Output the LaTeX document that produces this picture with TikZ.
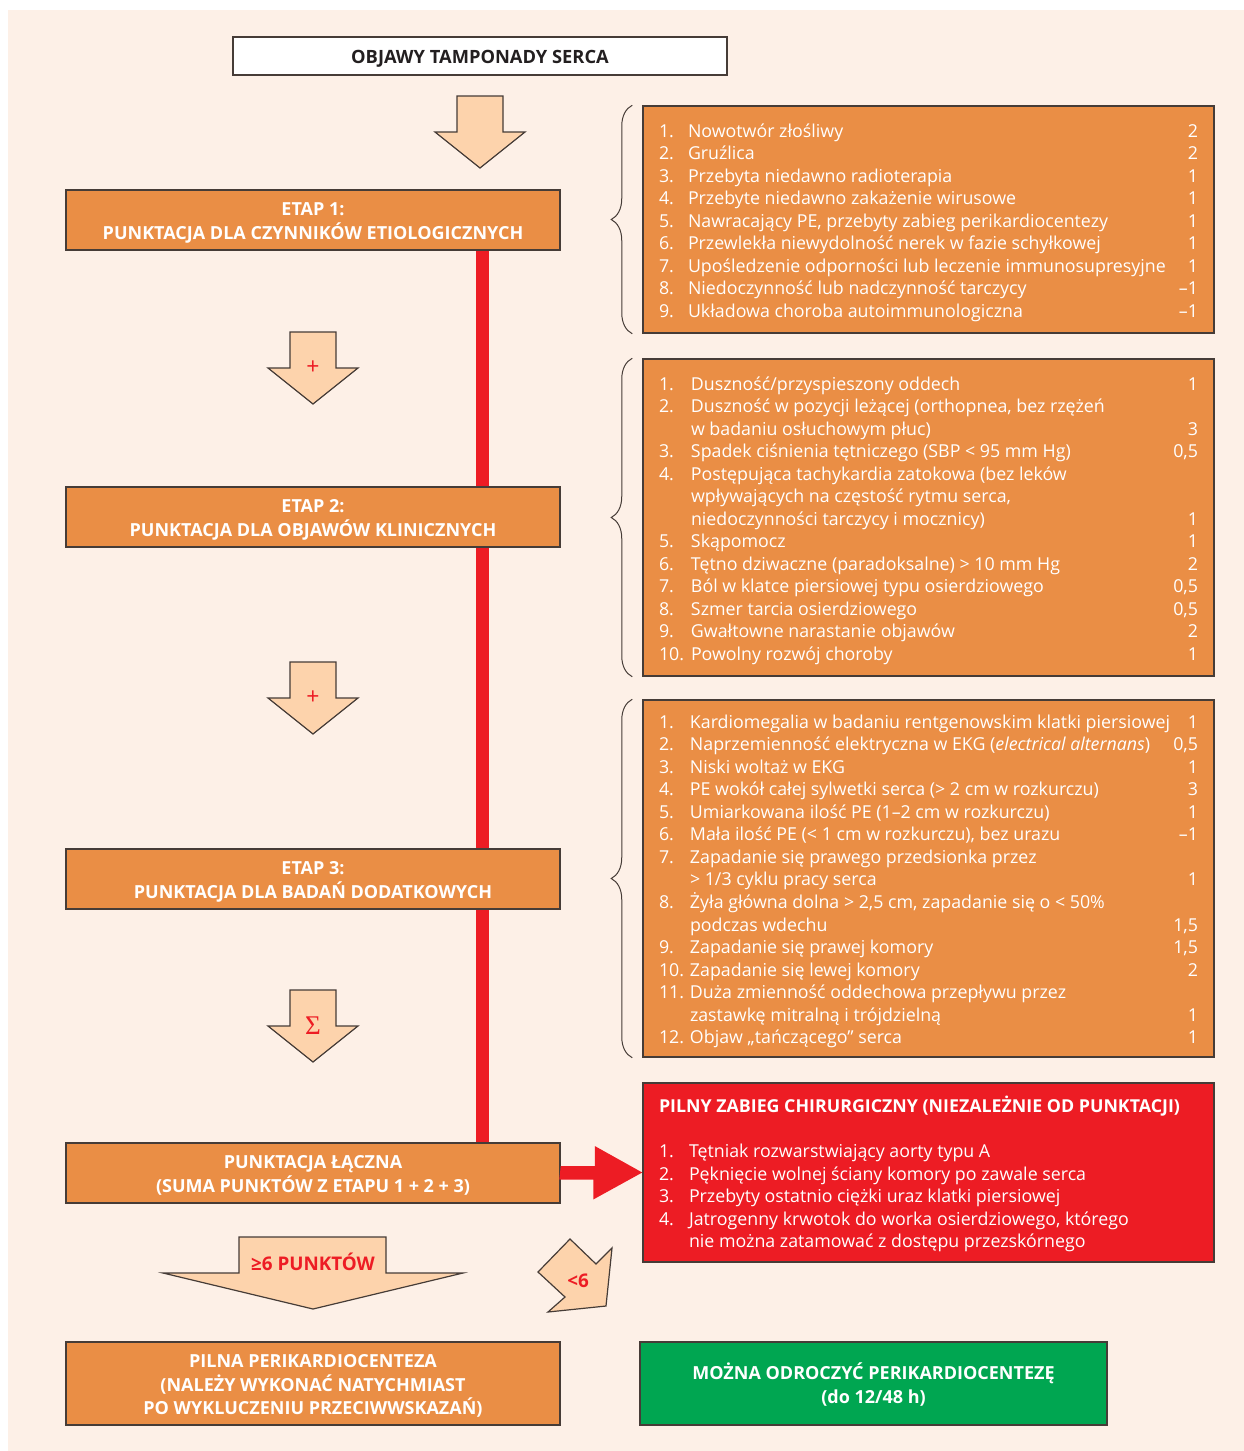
\documentclass[tikz,border=0pt]{standalone}
\usepackage{fontspec}
\setmainfont{Open Sans}
\newfontfamily\sigmafont{Liberation Serif}
\usetikzlibrary{positioning,decorations.pathreplacing,backgrounds}
\definecolor{bgpeach}{RGB}{253,240,231}
\definecolor{boxorange}{RGB}{234,142,69}
\definecolor{arrowpeach}{RGB}{253,211,172}
\definecolor{alertred}{RGB}{237,28,36}
\definecolor{okgreen}{RGB}{0,166,81}
\definecolor{edgegray}{RGB}{70,60,55}
\definecolor{titlegray}{RGB}{35,31,32}
\newlength{\numw}
\newcommand{\itm}[3]{\makebox[\numw][l]{#1}#2 & #3\\}
\newcommand{\lowered}[1]{\raisebox{-3pt}[\height][\depth]{#1}}
\newcommand{\stagetext}[1]{\lowered{\begin{tabular}{@{}c@{}}#1\end{tabular}}}
\newcommand{\listfont}{\fontsize{17.8}{22.5}\selectfont}
\newcommand{\stagefont}{\fontsize{18}{23}\selectfont\bfseries}
\begin{document}
\begin{tikzpicture}[x=1pt,y=-1pt,every node/.style={inner sep=0pt},
  stage/.style={draw=edgegray,line width=1.5pt,fill=boxorange,text=white,font=\stagefont,minimum width=494pt,minimum height=60pt},
  itembox/.style={draw=edgegray,line width=1.5pt,fill=boxorange,text=white,font=\listfont,minimum width=571pt},
  arrowfill/.style={fill=arrowpeach,draw=edgegray,line width=1.2pt,line join=miter},
  redmark/.style={text=alertred,font=\fontsize{18.8}{20}\selectfont\bfseries},
  curly/.style={decorate,decoration={brace,amplitude=21pt},draw=edgegray,line width=1pt},
  downarr/.pic={\filldraw[arrowfill] (-23,0) -- (23,0) -- (23,36) -- (45,36) -- (0,72) -- (-45,36) -- (-23,36) -- cycle;}]
% Score chart: three stages are summed, the total decides the procedure
\useasboundingbox (0,0) rectangle (1244,1451);

\node[draw=edgegray,line width=1.2pt,fill=white,minimum width=494pt,minimum height=38pt,text=titlegray,font=\fontsize{18.3}{20}\selectfont\bfseries] (title) at (480,56) {\lowered{OBJAWY TAMPONADY SERCA}};
\pic at (480,96) {downarr};

\node[stage] (etap1) at (313,220) {\stagetext{ETAP 1:\\PUNKTACJA DLA CZYNNIKÓW ETIOLOGICZNYCH}};
\node[stage] (etap2) at (313,517) {\stagetext{ETAP 2:\\PUNKTACJA DLA OBJAWÓW KLINICZNYCH}};
\node[stage] (etap3) at (313,879) {\stagetext{ETAP 3:\\PUNKTACJA DLA BADAŃ DODATKOWYCH}};
\node[stage] (suma) at (313,1173) {\stagetext{PUNKTACJA ŁĄCZNA\\(SUMA PUNKTÓW Z ETAPU 1 + 2 + 3)}};
\node[stage,minimum height=83pt,font=\fontsize{18}{22.5}\selectfont\bfseries] (pilna) at (313,1383.5) {\stagetext{PILNA PERIKARDIOCENTEZA\\(NALEŻY WYKONAĆ NATYCHMIAST\\PO WYKLUCZENIU PRZECIWWSKAZAŃ)}};
\node[stage,fill=okgreen,minimum width=467pt,minimum height=83pt,font=\fontsize{18}{24.5}\selectfont\bfseries] (odrocz) at (873.5,1383.5) {\stagetext{MOŻNA ODROCZYĆ PERIKARDIOCENTEZĘ\\(do 12/48 h)}};

% page colour and the red bar behind the stage boxes
\begin{scope}[on background layer]
\fill[bgpeach] (8,10) rectangle (1244,1451);
\draw[alertred,line width=13pt] ([xshift=169pt]etap1.south) -- ([xshift=169pt]suma.north);
\end{scope}

\pic at (313,332) {downarr};
\node[text=alertred,font=\fontsize{23}{24}\selectfont] (plus1) at (313,368) {+};
\pic at (313,662) {downarr};
\node[text=alertred,font=\fontsize{23}{24}\selectfont] (plus2) at (313,698) {+};
\pic at (313,990) {downarr};
\node[text=alertred,font=\sigmafont\fontsize{27}{30}\selectfont] (sigma) at (313,1026) {Σ};

% decision arrows
\filldraw[arrowfill] (239,1237) -- (386,1237) -- (386,1273) -- (463,1273) -- (313,1309) -- (163,1273) -- (239,1273) -- cycle;
\node[redmark] (ge6) at (313,1262) {≥6 PUNKTÓW};
\filldraw[arrowfill] (570,1239) -- (596,1264) -- (612,1248) -- (606,1306) -- (548,1312) -- (565,1297) -- (538,1272) -- cycle;
\node[redmark] (lt6) at (578,1281) {<6};

\node[itembox,minimum height=227pt] (etiolist) at (928.5,219.5) {\setlength{\numw}{29pt}%
\lowered{\begin{tabular*}{539pt}{@{}l@{\extracolsep{\fill}}r@{}}
\itm{1.}{Nowotwór złośliwy}{2}
\itm{2.}{Gruźlica}{2}
\itm{3.}{Przebyta niedawno radioterapia}{1}
\itm{4.}{Przebyte niedawno zakażenie wirusowe}{1}
\itm{5.}{Nawracający PE, przebyty zabieg perikardiocentezy}{1}
\itm{6.}{Przewlekła niewydolność nerek w fazie schyłkowej}{1}
\itm{7.}{Upośledzenie odporności lub leczenie immunosupresyjne}{1}
\itm{8.}{Niedoczynność lub nadczynność tarczycy}{–1}
\itm{9.}{Układowa choroba autoimmunologiczna}{–1}
\end{tabular*}}};

\node[itembox,minimum height=317pt] (kliniklist) at (928.5,517.5) {\setlength{\numw}{32pt}%
\lowered{\begin{tabular*}{539pt}{@{}l@{\extracolsep{\fill}}r@{}}
\itm{1.}{Duszność/przyspieszony oddech}{1}
\itm{2.}{Duszność w pozycji leżącej (orthopnea, bez rzężeń}{}
\itm{}{w badaniu osłuchowym płuc)}{3}
\itm{3.}{Spadek ciśnienia tętniczego (SBP < 95 mm Hg)}{0,5}
\itm{4.}{Postępująca tachykardia zatokowa (bez leków}{}
\itm{}{wpływających na częstość rytmu serca,}{}
\itm{}{niedoczynności tarczycy i mocznicy)}{1}
\itm{5.}{Skąpomocz}{1}
\itm{6.}{Tętno dziwaczne (paradoksalne) > 10 mm Hg}{2}
\itm{7.}{Ból w klatce piersiowej typu osierdziowego}{0,5}
\itm{8.}{Szmer tarcia osierdziowego}{0,5}
\itm{9.}{Gwałtowne narastanie objawów}{2}
\itm{10.}{Powolny rozwój choroby}{1}
\end{tabular*}}};

\node[itembox,minimum height=357pt] (badlist) at (928.5,878.5) {\setlength{\numw}{31pt}%
\lowered{\begin{tabular*}{539pt}{@{}l@{\extracolsep{\fill}}r@{}}
\itm{1.}{Kardiomegalia w badaniu rentgenowskim klatki piersiowej}{1}
\itm{2.}{Naprzemienność elektryczna w EKG (\textit{electrical alternans})}{0,5}
\itm{3.}{Niski woltaż w EKG}{1}
\itm{4.}{PE wokół całej sylwetki serca (> 2 cm w rozkurczu)}{3}
\itm{5.}{Umiarkowana ilość PE (1–2 cm w rozkurczu)}{1}
\itm{6.}{Mała ilość PE (< 1 cm w rozkurczu), bez urazu}{–1}
\itm{7.}{Zapadanie się prawego przedsionka przez}{}
\itm{}{> 1/3 cyklu pracy serca}{1}
\itm{8.}{Żyła główna dolna > 2,5 cm, zapadanie się o < 50\%}{}
\itm{}{podczas wdechu}{1,5}
\itm{9.}{Zapadanie się prawej komory}{1,5}
\itm{10.}{Zapadanie się lewej komory}{2}
\itm{11.}{Duża zmienność oddechowa przepływu przez}{}
\itm{}{zastawkę mitralną i trójdzielną}{1}
\itm{12.}{Objaw „tańczącego" serca}{1}
\end{tabular*}}};

\node[itembox,fill=alertred,minimum height=179pt] (redbox) at (928.5,1172.5) {\setlength{\numw}{30pt}%
\lowered{\begin{tabular*}{539pt}{@{}l@{\extracolsep{\fill}}r@{}}
\multicolumn{2}{@{}l@{}}{\bfseries PILNY ZABIEG CHIRURGICZNY (NIEZALEŻNIE OD PUNKTACJI)}\\[22.5pt]
\itm{1.}{Tętniak rozwarstwiający aorty typu A}{}
\itm{2.}{Pęknięcie wolnej ściany komory po zawale serca}{}
\itm{3.}{Przebyty ostatnio ciężki uraz klatki piersiowej}{}
\itm{4.}{Jatrogenny krwotok do worka osierdziowego, którego}{}
\itm{}{nie można zatamować z dostępu przezskórnego}{}
\end{tabular*}}};

\draw[curly] ([xshift=-10pt]etiolist.south west) -- ([xshift=-10pt]etiolist.north west);
\draw[curly] ([xshift=-10pt]kliniklist.south west) -- ([xshift=-10pt]kliniklist.north west);
\draw[curly] ([xshift=-10pt]badlist.south west) -- ([xshift=-10pt]badlist.north west);

\fill[alertred] (suma.east) ++(0,-7) -- ++(34,0) -- ++(0,-20) -- (redbox.west) -- ++(-49,27) -- ++(0,-20) -- ++(-34,0) -- cycle;
\end{tikzpicture}
\end{document}
